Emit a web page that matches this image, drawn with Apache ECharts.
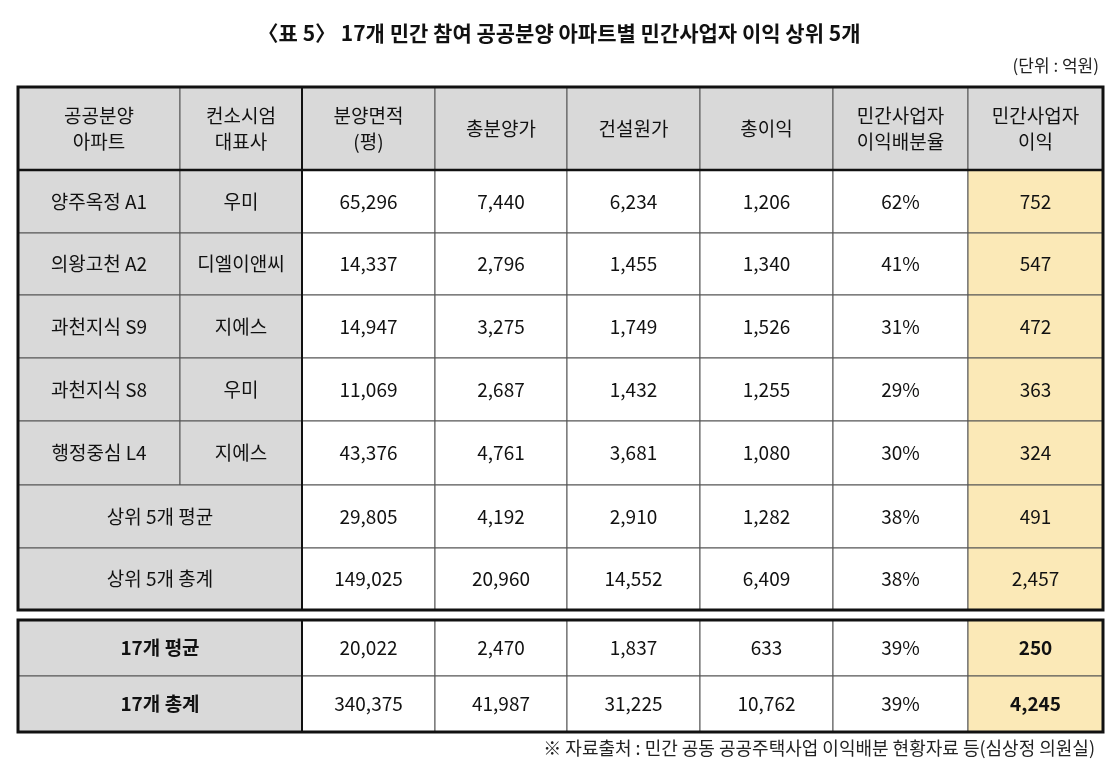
<!DOCTYPE html><html><head><meta charset="utf-8"><script src="https://cdn.jsdelivr.net/npm/echarts@6/dist/echarts.min.js"></script>
<style>html,body{margin:0;background:#fff}#c{width:1118px;height:766px}</style></head><body><div id="c"></div><script>
const title='〈표 5〉 17개 민간 참여 공공분양 아파트별 민간사업자 이익 상위 5개';
const unit='(단위 : 억원)';
const source='※ 자료출처 : 민간 공동 공공주택사업 이익배분 현황자료 등(심상정 의원실)';
const headers=['공공분양\n아파트','컨소시엄\n대표사','분양면적\n(평)','총분양가','건설원가','총이익','민간사업자\n이익배분율','민간사업자\n이익'];
const apts=['양주옥정 A1','의왕고천 A2','과천지식 S9','과천지식 S8','행정중심 L4'];
const firms=['우미','디엘이앤씨','지에스','우미','지에스'];
const area=['65,296','14,337','14,947','11,069','43,376'];
const sales=['7,440','2,796','3,275','2,687','4,761'];
const cost=['6,234','1,455','1,749','1,432','3,681'];
const profit=['1,206','1,340','1,526','1,255','1,080'];
const ratio=['62%','41%','31%','29%','30%'];
const privProfit=['752','547','472','363','324'];
const sumLabels=['상위 5개 평균','상위 5개 총계','17개 평균','17개 총계'];
const sumRows=[['29,805','4,192','2,910','1,282','38%','491'],['149,025','20,960','14,552','6,409','38%','2,457'],['20,022','2,470','1,837','633','39%','250'],['340,375','41,987','31,225','10,762','39%','4,245']];
// layout
const X=[18,180,302,435,567,700,833,968,1103];
const Y=[87,170,233,295,358,421,485,548,610,620,676,732];
const GRAY='#d9d9d9',YEL='#fbe9b7';
const cells=[];
function add(c0,c1,r0,r1,t,fill,bold){cells.push([c0,c1,r0,r1,t,fill,bold?1:0]);}
headers.forEach((h,i)=>add(i,i+1,0,1,h,GRAY,0));
apts.forEach((a,r)=>{const vals=[area[r],sales[r],cost[r],profit[r],ratio[r],privProfit[r]];
 add(0,1,r+1,r+2,a,GRAY,0);add(1,2,r+1,r+2,firms[r],GRAY,0);
 vals.forEach((v,k)=>add(k+2,k+3,r+1,r+2,v,k===5?YEL:'#fff',0));});
sumLabels.forEach((l,i)=>{const r=i<2?6+i:9+(i-2);
 add(0,2,r,r+1,l,GRAY,i>=2);sumRows[i].forEach((v,k)=>add(k+2,k+3,r,r+1,v,k===5?YEL:'#fff',i>=2&&k===5));});
const frames=[[0,8,0,8],[0,8,9,11]];
const chart=echarts.init(document.getElementById('c'));
const FONT='"Noto Sans CJK KR", sans-serif';
chart.setOption({animation:false,
 grid:{left:0,right:0,top:0,bottom:0},
 xAxis:{type:'value',min:0,max:1118,show:false},
 yAxis:{type:'value',min:0,max:766,inverse:true,show:false},
 title:[{text:title,left:'center',top:18,textStyle:{fontFamily:FONT,fontSize:21,fontWeight:'bold',color:'#111'}},
  {text:unit,right:14,top:52,textStyle:{fontFamily:FONT,fontSize:17,fontWeight:'normal',color:'#222'}},
  {text:source,right:18,top:734,textStyle:{fontFamily:FONT,fontSize:18,fontWeight:'normal',color:'#222'}}],
 series:[{type:'custom',coordinateSystem:'cartesian2d',data:cells.map(c=>[X[c[0]],Y[c[2]],X[c[1]],Y[c[3]]]),
  renderItem:(p,api)=>{const c=cells[p.dataIndex];const a=api.coord([X[c[0]],Y[c[2]]]),b=api.coord([X[c[1]],Y[c[3]]]);
   return {type:'group',children:[{type:'rect',shape:{x:a[0],y:a[1],width:b[0]-a[0],height:b[1]-a[1]},style:{fill:c[5],stroke:'#555',lineWidth:1}},
    {type:'text',style:{x:(a[0]+b[0])/2,y:(a[1]+b[1])/2,text:c[4],align:'center',verticalAlign:'middle',fontFamily:FONT,fontSize:19,lineHeight:26,fontWeight:c[6]?'bold':'normal',fill:'#111'}}]};}},
  {type:'custom',coordinateSystem:'cartesian2d',data:frames.map(f=>[X[f[0]],Y[f[2]],X[f[1]],Y[f[3]]]),
   renderItem:(p,api)=>{const f=frames[p.dataIndex];const a=api.coord([X[f[0]],Y[f[2]]]),b=api.coord([X[f[1]],Y[f[3]]]);
    const ch=[{type:'rect',shape:{x:a[0],y:a[1],width:b[0]-a[0],height:b[1]-a[1]},style:{fill:'none',stroke:'#111',lineWidth:3}}];
    if(p.dataIndex===0){const y=api.coord([0,Y[1]])[1];ch.push({type:'line',shape:{x1:a[0],y1:y,x2:b[0],y2:y},style:{stroke:'#111',lineWidth:2.5}});
     const xx=api.coord([X[2],0])[0];ch.push({type:'line',shape:{x1:xx,y1:a[1],x2:xx,y2:b[1]},style:{stroke:'#111',lineWidth:2}});}
    else{const xx=api.coord([X[2],0])[0];ch.push({type:'line',shape:{x1:xx,y1:a[1],x2:xx,y2:b[1]},style:{stroke:'#111',lineWidth:2}});}
    return {type:'group',children:ch};}}]
});
</script></body></html>
